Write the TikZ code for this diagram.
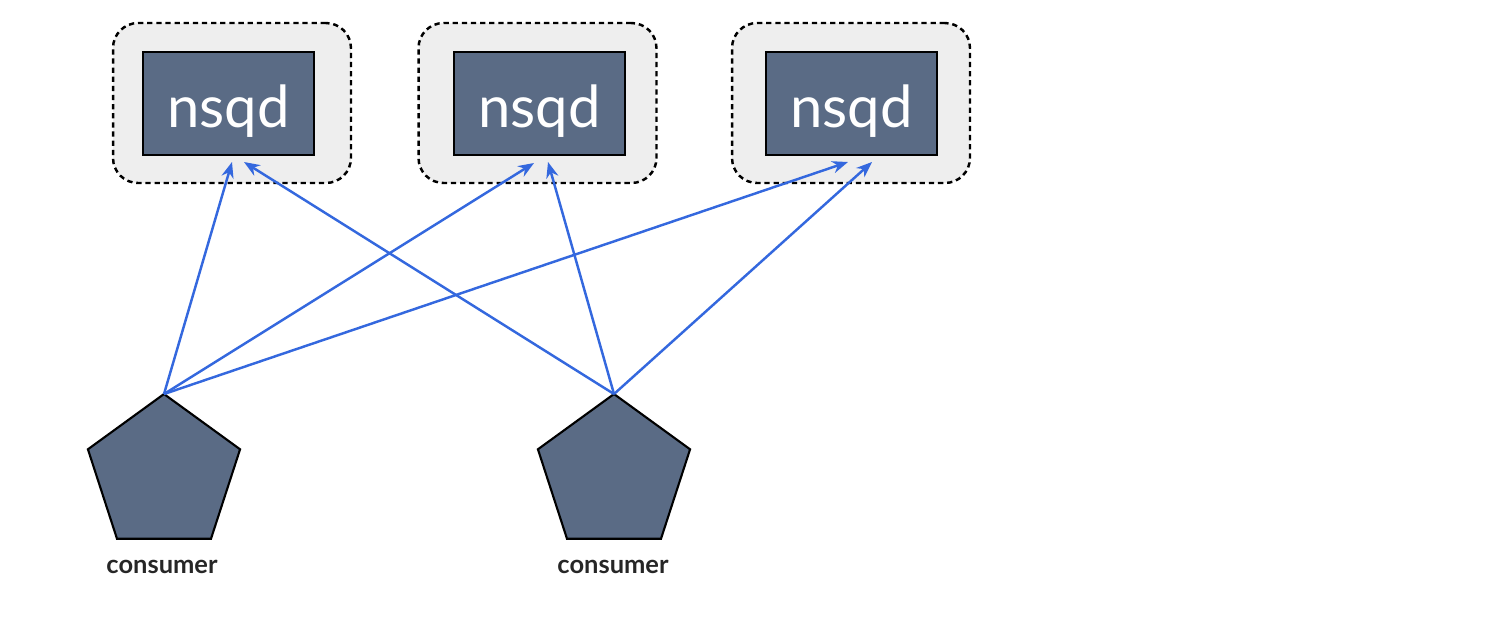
\documentclass[tikz,border=0pt]{standalone}
\usepackage{fontspec}
\setmainfont{Lato}
\usetikzlibrary{positioning,arrows.meta,shapes.geometric,calc}
\definecolor{SlateFill}{RGB}{90,107,133}
\definecolor{HostGray}{RGB}{238,238,238}
\definecolor{LinkBlue}{RGB}{52,104,222}

\begin{document}
\begin{tikzpicture}[
    x=0.02cm, y=-0.02cm,
    host/.style={draw, dashed, dash pattern=on 3pt off 2.2pt, line width=1.4pt, fill=HostGray,
        rounded corners=0.5cm, minimum width=4.76cm, minimum height=3.2cm},
    daemon/.style={draw, line width=1.2pt, fill=SlateFill, text=white,
        minimum width=3.42cm, minimum height=2.06cm, inner sep=0pt,
        text height=1.1cm, text depth=0.16cm,
        font=\fontsize{33}{33}\selectfont},
    client/.style={regular polygon, regular polygon sides=5, draw, line width=1.2pt,
        fill=SlateFill, minimum size=3.2cm, inner sep=0pt, outer sep=0pt},
    caption/.style={font=\fontsize{14.5}{14.5}\selectfont\bfseries, text=black!85},
    link/.style={draw=LinkBlue, line width=1.4pt, -{Stealth[length=9pt,width=7pt]}},
]
\useasboundingbox (0,0) rectangle (1500,616);

% nsqd hosts
\node[host] (h1) at (232,103) {};
\node[host] (h2) at (537.5,103) {};
\node[host] (h3) at (851,103) {};
\node[daemon] (n1) at (228.5,103.5) {nsqd};
\node[daemon] (n2) at (539.5,103.5) {nsqd};
\node[daemon] (n3) at (851.5,103.5) {nsqd};

% consumers
\node[client] (c1) at (164,474) {};
\node[client] (c2) at (614,474) {};
\node[caption] (l1) at (162,567) {consumer};
\node[caption] (l2) at (613,567) {consumer};

% arrow targets
\coordinate (t11) at (232,162);
\coordinate (t21) at (244,162);
\coordinate (t12) at (534,163);
\coordinate (t22) at (548,162);
\coordinate (t13) at (848,162);
\coordinate (t23) at (872,162);

\foreach \i in {1,2,3} {
    \draw[link] (c1.corner 1) -- (t1\i);
    \draw[link] (c2.corner 1) -- (t2\i);
}
\end{tikzpicture}
\end{document}
